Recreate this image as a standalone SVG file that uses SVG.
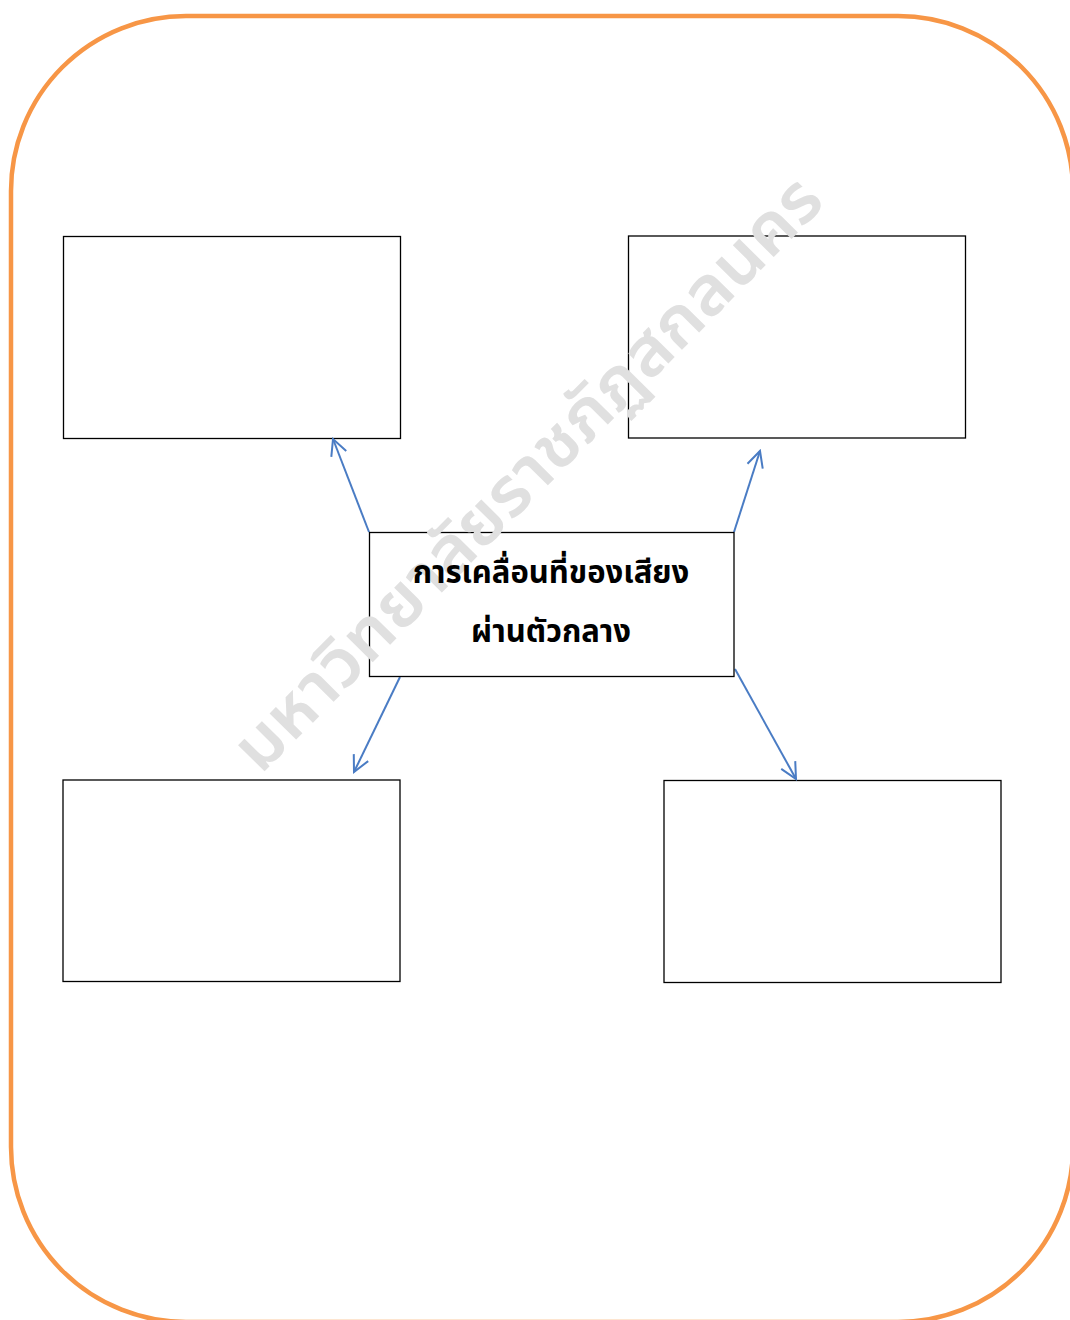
<svg xmlns="http://www.w3.org/2000/svg" width="1070" height="1320" viewBox="0 0 1070 1320">
<style>
.box{fill:#fff;stroke:#000;stroke-width:1.3}
.conn{fill:none;stroke:#4a7cc4;stroke-width:2}
.label{font-family:Tahoma,"Noto Sans Thai","Noto Sans","DejaVu Sans",sans-serif;font-weight:bold;font-size:31px;fill:#000;text-anchor:middle}
.wm{font-family:Tahoma,"Noto Sans Thai","Noto Sans","DejaVu Sans",sans-serif;font-weight:600;font-size:68px;fill:#e0e0e0;text-anchor:middle}
</style>
<defs>
<marker id="arr" viewBox="0 0 20 20" refX="18" refY="10" markerWidth="20" markerHeight="20" markerUnits="userSpaceOnUse" orient="auto">
<path d="M2,2 L18,10 L2,18" fill="none" stroke="#4a7cc4" stroke-width="2"/>
</marker>
</defs>
<rect width="1070" height="1320" fill="#fff"/>
<rect id="frame" x="11" y="16" width="1062" height="1306" rx="175" ry="175" fill="none" stroke="#f79646" stroke-width="4.5"/>
<g id="box-tl"><rect class="box" x="63.5" y="236.5" width="337" height="202"/></g>
<g id="box-tr"><rect class="box" x="628.5" y="236" width="337" height="202"/></g>
<g id="box-bl"><rect class="box" x="63" y="780" width="337" height="201.5"/></g>
<g id="box-br"><rect class="box" x="664" y="780.5" width="337" height="202"/></g>
<g id="connectors">
<line class="conn" x1="369" y1="532" x2="333" y2="439" marker-end="url(#arr)"/>
<line class="conn" x1="734" y1="532" x2="760" y2="451" marker-end="url(#arr)"/>
<line class="conn" x1="400" y1="677" x2="354" y2="772" marker-end="url(#arr)"/>
<line class="conn" x1="735" y1="669" x2="796" y2="779" marker-end="url(#arr)"/>
</g>
<g id="center-box">
<rect class="box" x="369.5" y="532.5" width="364.5" height="144"/>
</g>
<g id="watermark" transform="translate(528,474) rotate(-45.3)">
<text class="wm" x="0" y="22" textLength="805" lengthAdjust="spacingAndGlyphs">มหาวิทยาลัยราชภัฏสกลนคร</text>
</g>
<g id="center-label">
<text class="label" x="551" y="583">การเคลื่อนที่ของเสียง</text>
<text class="label" x="551" y="642">ผ่านตัวกลาง</text>
</g>
</svg>
